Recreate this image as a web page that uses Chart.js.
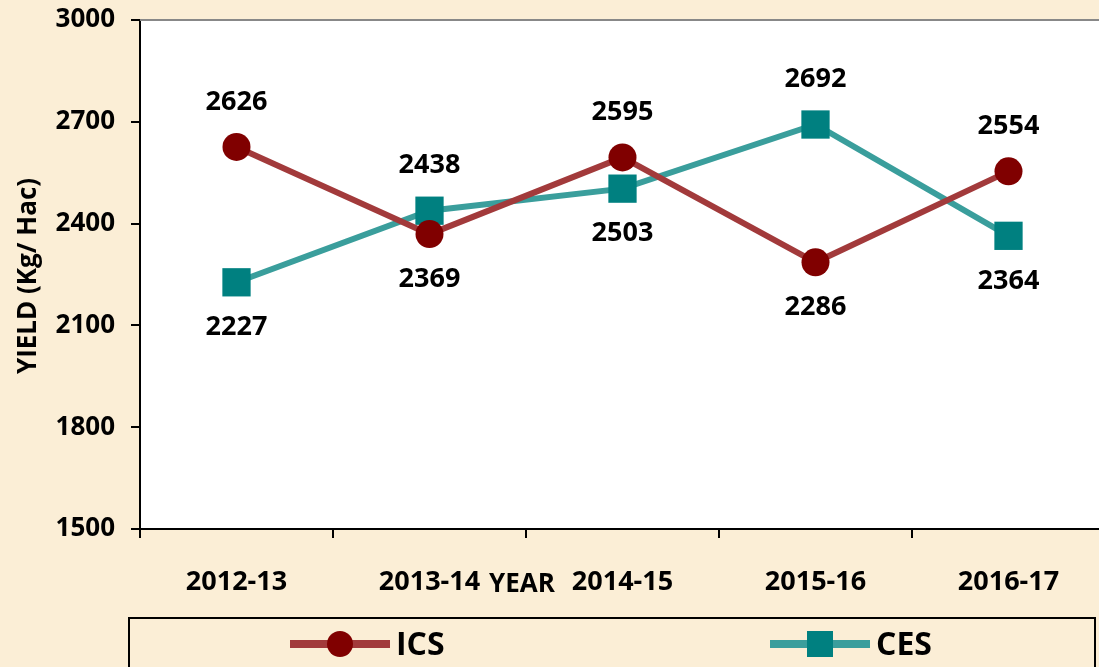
<!DOCTYPE html>
<html>
<head>
<meta charset="utf-8">
<script src="https://cdn.jsdelivr.net/npm/chart.js@4"></script>
<style>
  html, body { margin: 0; padding: 0; overflow: hidden; background: #FBEED6; }
  #wrap { position: absolute; left: 0; top: 0; width: 1125px; height: 667px; }
</style>
</head>
<body>
<div id="wrap"><canvas id="yieldChart" width="1125" height="667"></canvas></div>
<script>
// år och skörd (Kg/Hac) per system
const years = ['2012-13', '2013-14', '2014-15', '2015-16', '2016-17'];
const icsYield = [2626, 2369, 2595, 2286, 2554];
const cesYield = [2227, 2438, 2503, 2692, 2364];
const yTicks = [1500, 1800, 2100, 2400, 2700, 3000];

const FONT = '"Open Sans", Lato, sans-serif';

// vit plotyta + grå topplinje
const plotBg = {
   id: 'plotBg',
   beforeDraw(chart) {
      const { ctx, chartArea: a } = chart;
      ctx.save();
      ctx.fillStyle = '#ffffff';
      ctx.fillRect(a.left, a.top, a.right - a.left, a.bottom - a.top);
      ctx.restore();
   },
   afterDraw(chart) {
      const { ctx, chartArea: a } = chart;
      ctx.save();
      ctx.strokeStyle = '#888888';
      ctx.lineWidth = 2;
      ctx.beginPath();
      ctx.moveTo(a.left, a.top);
      ctx.lineTo(a.right, a.top);
      ctx.stroke();
      ctx.restore();
   }
};

// värdeetiketter, ovanför om serien ligger högst vid punkten
const valueLabels = {
   id: 'valueLabels',
   afterDatasetsDraw(chart) {
      const { ctx } = chart;
      ctx.save();
      ctx.font = 'bold 27px ' + FONT;
      ctx.fillStyle = '#000';
      ctx.textAlign = 'center';
      ctx.textBaseline = 'middle';
      chart.data.datasets.forEach((ds, di) => {
         const other = chart.data.datasets[1 - di];
         chart.getDatasetMeta(di).data.forEach((pt, i) => {
            const above = ds.data[i] >= other.data[i];
            ctx.fillText(ds.data[i], pt.x, pt.y + (above ? -45 : 45));
         });
      });
      ctx.restore();
   }
};

// axeltitlar och förklaringsruta
const extras = {
   id: 'extras',
   afterDraw(chart) {
      const { ctx } = chart;
      ctx.save();
      ctx.fillStyle = '#000';
      ctx.font = 'bold 26px ' + FONT;
      ctx.textAlign = 'center';
      ctx.textBaseline = 'middle';
      ctx.fillText('YEAR', 522, 585);

      ctx.save();
      ctx.translate(29, 276);
      ctx.rotate(-Math.PI / 2);
      ctx.font = 'bold 26px ' + FONT;
      ctx.fillText('YIELD (Kg/ Hac)', 0, 0);
      ctx.restore();

      ctx.strokeStyle = '#000';
      ctx.lineWidth = 2;
      ctx.strokeRect(129, 618, 966, 60);

      const items = [
         { ds: chart.data.datasets[0], x: 340, text: 'ICS' },
         { ds: chart.data.datasets[1], x: 820, text: 'CES' }
      ];
      items.forEach(it => {
         const y = 644;
         ctx.strokeStyle = it.ds.borderColor;
         ctx.lineWidth = 8;
         ctx.beginPath();
         ctx.moveTo(it.x - 50, y);
         ctx.lineTo(it.x + 50, y);
         ctx.stroke();
         ctx.fillStyle = it.ds.pointBackgroundColor;
         ctx.beginPath();
         if (it.ds.pointStyle === 'circle') {
            ctx.arc(it.x, y, 13, 0, Math.PI * 2);
         } else {
            ctx.rect(it.x - 13, y - 13, 26, 26);
         }
         ctx.fill();
         ctx.fillStyle = '#000';
         ctx.font = 'bold 32px ' + FONT;
         ctx.textAlign = 'left';
         ctx.fillText(it.text, it.x + 56, y + 2);
      });
      ctx.restore();
   }
};

new Chart(document.getElementById('yieldChart'), {
   type: 'line',
   data: {
      labels: years,
      datasets: [
         {
            label: 'ICS',
            data: icsYield,
            borderColor: '#A23A3B',
            borderWidth: 6,
            pointStyle: 'circle',
            pointRadius: 14,
            pointHoverRadius: 14,
            pointBackgroundColor: '#800000',
            pointBorderColor: '#800000',
            pointBorderWidth: 0,
            tension: 0
         },
         {
            label: 'CES',
            data: cesYield,
            borderColor: '#3A9E9C',
            borderWidth: 6,
            pointStyle: 'rect',
            pointRadius: 20,
            pointHoverRadius: 20,
            pointBackgroundColor: '#008080',
            pointBorderColor: '#008080',
            pointBorderWidth: 0,
            tension: 0
         }
      ]
   },
   options: {
      responsive: false,
      animation: false,
      layout: { padding: { top: 19, right: 5, left: 0, bottom: 0 } },
      plugins: { legend: { display: false }, tooltip: { enabled: false } },
      scales: {
         x: {
            offset: true,
            grid: { offset: true, drawOnChartArea: false, tickLength: 9, color: '#000', lineWidth: 2 },
            border: { color: '#000', width: 2 },
            ticks: { color: '#000', font: { family: FONT, weight: 'bold', size: 27 }, padding: 28 },
            afterFit(scale) { scale.height = 138; }
         },
         y: {
            min: 1500,
            max: 3000,
            afterBuildTicks(scale) { scale.ticks = yTicks.map(v => ({ value: v })); },
            grid: { drawOnChartArea: false, tickLength: 9, color: '#000', lineWidth: 2 },
            border: { color: '#000', width: 2 },
            ticks: {
               color: '#000',
               font: { family: FONT, weight: 'bold', size: 26, lineHeight: 0.25 },
               padding: 16,
               callback: v => String(v)
            },
            afterFit(scale) { scale.width = 140; }
         }
      }
   },
   plugins: [plotBg, valueLabels, extras]
});
</script>
</body>
</html>
